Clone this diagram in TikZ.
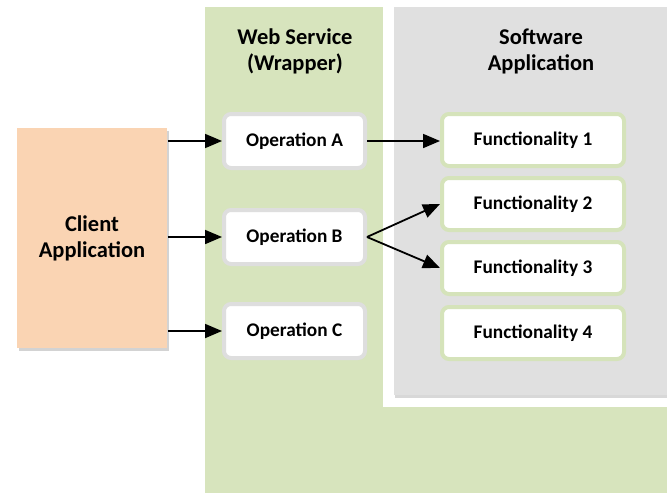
\documentclass[tikz,border=0pt]{standalone}
\usepackage{fontspec}
\setmainfont{Carlito}
\usepackage{tikz}
\usetikzlibrary{arrows.meta,shadows}

\definecolor{wsgreen}{HTML}{D7E4BD}
\definecolor{swgray}{HTML}{E0E0E0}
\definecolor{clientpeach}{HTML}{FAD4B3}
\definecolor{opborder}{HTML}{DEDEDE}
\definecolor{fnborder}{HTML}{D5E3BA}

\begin{document}
\begin{tikzpicture}[x=1pt,y=-1pt,->,>={Triangle[length=17pt,width=14pt]},line width=1.8pt,
                    title/.style={font=\fontsize{22.5}{26}\selectfont\bfseries,align=center},
                    client box/.style={rectangle,fill=clientpeach,minimum width=150pt,minimum height=220pt,
                        drop shadow={shadow xshift=2pt,shadow yshift=-3pt,opacity=.35},
                        font=\fontsize{22.5}{26}\selectfont\bfseries,align=center},
                    op box/.style={rectangle,rounded corners=7pt,fill=white,draw=opborder,line width=4pt,
                        minimum width=141pt,minimum height=54pt,font=\fontsize{19.3}{22}\selectfont\bfseries},
                    fn box/.style={op box,draw=fnborder,minimum width=182pt,minimum height=52pt}]

  \useasboundingbox (0,0) rectangle (667,495);

  % panels
  \fill[wsgreen] (205,7) rectangle (667,493);
  \fill[white] (383,7) rectangle (667,407);
  \fill[swgray,drop shadow={shadow xshift=1pt,shadow yshift=-3pt,opacity=.3}] (394,7) rectangle (667,395);

  \node[title] (wstitle) at (295,51) {Web Service\\(Wrapper)};
  \node[title] (swtitle) at (541,51) {Software\\Application};

  \node[client box] (client) at (92,238) {Client\\Application};

  \node[op box] (opA) at (294.5,141) {Operation A};
  \node[op box] (opB) at (294.5,237) {Operation B};
  \node[op box] (opC) at (294.5,331) {Operation C};

  \node[fn box] (fn1) at (533,140) {Functionality 1};
  \node[fn box] (fn2) at (533,204) {Functionality 2};
  \node[fn box] (fn3) at (533,268) {Functionality 3};
  \node[fn box] (fn4) at (533,333) {Functionality 4};

  \draw (client.east |- opA) -- (opA);
  \draw (client.east |- opB) -- (opB);
  \draw (client.east |- opC) -- (opC);
  \draw (opA) -- (fn1.west |- opA);
  \draw (opB.east) -- (fn2.west);
  \draw (opB.east) -- (fn3.west);
\end{tikzpicture}
\end{document}
